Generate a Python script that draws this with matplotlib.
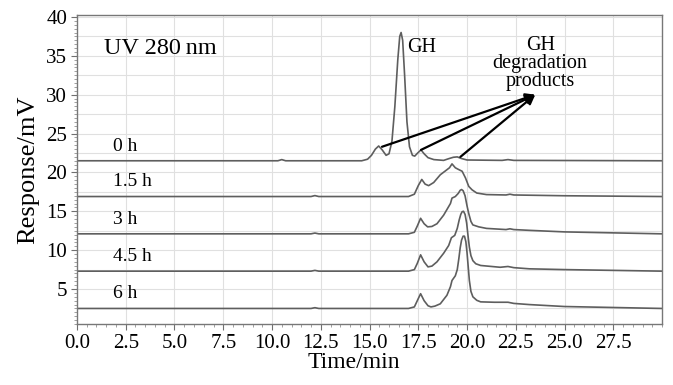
import matplotlib
matplotlib.use('Agg')
import matplotlib.pyplot as plt
from matplotlib.ticker import MultipleLocator

plt.rcParams['font.family'] = ['Liberation Serif', 'DejaVu Serif']

# Kurven: Zeit (min) und Signal über der jeweiligen Grundlinie (mV)
t_0h = [0, 10.3, 10.5, 10.7, 14.6, 14.9, 15.1, 15.3, 15.47, 15.65, 15.85, 16.0, 16.15, 16.3, 16.45, 16.55, 16.62,
        16.7, 16.8, 16.92, 17.05, 17.2, 17.32, 17.47, 17.64, 17.8, 18.0, 18.3, 18.8, 19.1, 19.3, 19.5, 19.7, 20.0,
        21.8, 22.1, 22.4, 30]
r_0h = [0, 0, 0.15, 0, 0, 0.2, 0.7, 1.5, 1.9, 1.4, 0.7, 0.9, 2.5, 7.0, 13.0, 16.0, 16.5,
        15.5, 11.0, 5.0, 1.8, 0.7, 0.6, 1.0, 1.4, 0.9, 0.4, 0.15, 0.05, 0.3, 0.45, 0.5, 0.3, 0.1,
        0.05, 0.15, 0.05, 0]

t_15h = [0, 12.0, 12.2, 12.4, 17.0, 17.3, 17.5, 17.68, 17.85, 18.03, 18.29, 18.63, 18.97, 19.1, 19.23, 19.4,
         19.55, 19.75, 19.92, 20.09, 20.26, 20.5, 21.0, 22.0, 22.2, 22.4, 25.0, 30]
r_15h = [0, 0, 0.12, 0, 0, 0.3, 1.4, 2.2, 1.6, 1.4, 1.8, 2.8, 3.45, 3.7, 4.2, 3.7,
         3.5, 3.25, 2.4, 1.3, 0.86, 0.45, 0.25, 0.2, 0.3, 0.2, 0.1, 0]

t_3h = [0, 12.0, 12.2, 12.4, 17.0, 17.3, 17.45, 17.62, 17.8, 17.98, 18.2, 18.46, 18.8, 19.15, 19.23, 19.4,
        19.55, 19.65, 19.72, 19.8, 19.9, 20.0, 20.09, 20.2, 20.3, 20.6, 21.0, 22.0, 22.2, 22.4, 23.2, 25.0, 30]
r_3h = [0, 0, 0.1, 0, 0, 0.2, 1.0, 2.0, 1.3, 0.9, 0.95, 1.3, 2.4, 3.9, 4.6, 4.8,
        5.2, 5.6, 5.7, 5.55, 4.9, 3.6, 2.6, 1.6, 1.15, 0.9, 0.7, 0.55, 0.65, 0.55, 0.45, 0.25, 0]

t_45h = [0, 12.0, 12.2, 12.4, 17.0, 17.3, 17.45, 17.62, 17.8, 18.0, 18.2, 18.46, 18.8, 19.06, 19.2, 19.37,
         19.5, 19.6, 19.68, 19.75, 19.82, 19.9, 19.98, 20.05, 20.12, 20.2, 20.3, 20.45, 20.7, 21.7, 22.1, 22.4,
         23.2, 25.0, 30]
r_45h = [0, 0, 0.1, 0, 0, 0.2, 1.0, 2.1, 1.2, 0.55, 0.65, 1.2, 2.3, 3.3, 4.3, 4.6,
         5.5, 6.6, 7.3, 7.65, 7.7, 7.3, 6.2, 4.6, 3.1, 2.0, 1.35, 0.95, 0.73, 0.5, 0.6, 0.45,
         0.3, 0.2, 0]

t_6h = [0, 12.0, 12.2, 12.4, 17.0, 17.3, 17.45, 17.62, 17.8, 18.0, 18.15, 18.35, 18.63, 18.97, 19.15, 19.23,
        19.4, 19.5, 19.58, 19.65, 19.72, 19.8, 19.87, 19.94, 20.0, 20.06, 20.12, 20.2, 20.3, 20.5, 20.7, 21.4,
        22.1, 22.4, 23.2, 25.0, 30]
r_6h = [0, 0, 0.1, 0, 0, 0.2, 1.0, 1.9, 1.0, 0.35, 0.2, 0.3, 0.6, 1.7, 2.8, 3.6,
        4.2, 5.0, 6.4, 7.8, 8.8, 9.3, 9.3, 8.6, 7.2, 5.4, 3.6, 2.2, 1.5, 1.05, 0.85, 0.8,
        0.8, 0.65, 0.5, 0.25, 0]

traces = [(t_0h, r_0h), (t_15h, r_15h), (t_3h, r_3h), (t_45h, r_45h), (t_6h, r_6h)]
labels = ['0 h', '1.5 h', '3 h', '4.5 h', '6 h']
baselines = [21.5, 16.9, 12.1, 7.3, 2.5]

# Pfeile: Startpunkte an den Abbauprodukten, alle zur Beschriftung
arrow_tails = [(15.64, 23.3), (17.64, 22.9), (19.66, 22.0)]
arrow_head = (23.5, 30.0)

fig = plt.figure(figsize=(6.73, 3.85), dpi=100)
ax = fig.add_axes([0.1144, 0.1584, 0.8693, 0.8026])

for (t, r), base, lab in zip(traces, baselines, labels):
    ax.plot(t, [base + v for v in r], color='#5e5e5e', lw=1.2, solid_joinstyle='round')
    ax.text(1.85, base + 1.9, lab, fontsize=14, va='center', ha='left')

ax.text(1.4, 36.0, 'UV 280\u2009nm', fontsize=17.5, va='center', ha='left')
ax.text(16.95, 36.1, 'GH', fontsize=14.5, va='center', ha='left')
ax.text(23.75, 34.0, 'GH\ndegradation\nproducts', fontsize=14.5, va='center', ha='center', linespacing=0.95)

for tail in arrow_tails:
    ax.annotate('', xy=arrow_head, xytext=tail,
                arrowprops=dict(arrowstyle='-|>', color='black', lw=1.6, mutation_scale=14, shrinkA=0, shrinkB=0))

ax.set_xlim(0, 30)
ax.set_ylim(0.5, 40.25)
ax.set_xticks([0, 2.5, 5, 7.5, 10, 12.5, 15, 17.5, 20, 22.5, 25, 27.5])
ax.set_xticklabels(['%.1f' % v for v in ax.get_xticks()])
ax.set_yticks([5, 10, 15, 20, 25, 30, 35, 40])
ax.xaxis.set_minor_locator(MultipleLocator(0.5))
ax.yaxis.set_minor_locator(MultipleLocator(0.5))
ax.tick_params(which='major', direction='out', length=4, color='#707070', labelsize=15, pad=3)
ax.tick_params(which='minor', direction='out', length=2, color='#909090')

# Gitter alle 2.5
for x in [2.5, 5, 7.5, 10, 12.5, 15, 17.5, 20, 22.5, 25, 27.5]:
    ax.axvline(x, color='#e0e0e0', lw=0.8, zorder=0)
for y in [2.5, 5, 7.5, 10, 12.5, 15, 17.5, 20, 22.5, 25, 27.5, 30, 32.5, 35, 37.5, 40]:
    ax.axhline(y, color='#e0e0e0', lw=0.8, zorder=0)

for s in ax.spines.values():
    s.set_color('#777777')
    s.set_linewidth(1.0)

ax.set_xlabel('Time/min', fontsize=17, labelpad=2)
ax.xaxis.set_label_coords(0.473, -0.09)
ax.set_ylabel('Response/mV', fontsize=19, labelpad=4)
ax.yaxis.set_label_coords(-0.065, 0.5)

fig.savefig('out.png', dpi=100)
